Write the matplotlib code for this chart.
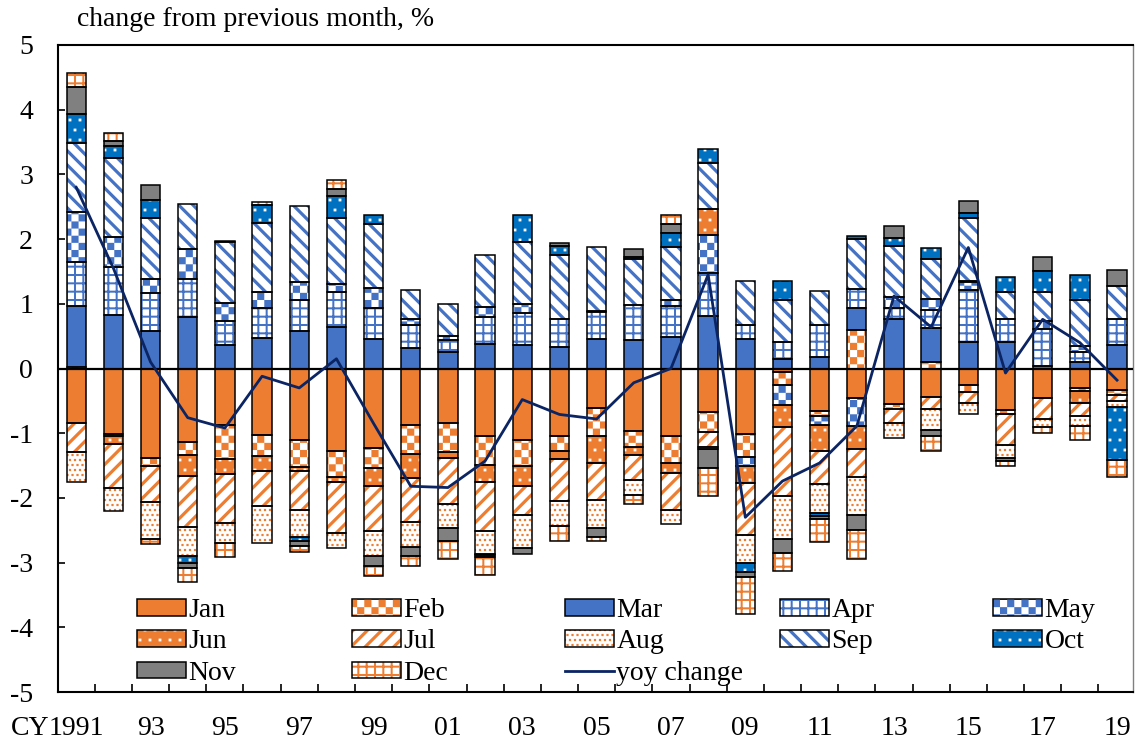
import numpy as np
import matplotlib
matplotlib.use('Agg')
import matplotlib.pyplot as plt
import matplotlib.hatch as mhatch
from matplotlib.path import Path
from matplotlib.patches import Patch
from matplotlib.lines import Line2D
from matplotlib import rcParams

rcParams['font.family'] = ['Liberation Serif', 'DejaVu Serif']
rcParams['font.size'] = 20
rcParams['hatch.linewidth'] = 0.01

# data: monthly change (%) for each calendar year, and yoy change
years = list(range(1991, 2020))
jan = [-0.84, -1.02, -1.39, -1.13, -0.88, -1.03, -1.10, -1.28, -1.23, -0.88, -0.84, -1.04, -1.10, -1.04, -0.61,
       -0.97, -1.04, -0.67, -1.02, -0.05, -0.66, -0.45, -0.55, -0.44, -0.26, -0.64, -0.45, -0.30, -0.33]
feb = [0.03, -0.03, -0.11, -0.21, -0.52, -0.33, -0.42, -0.40, -0.31, -0.44, -0.45, -0.45, -0.40, -0.24, -0.43,
       -0.24, -0.42, -0.31, -0.35, -0.20, -0.08, 0.60, -0.07, 0.10, -0.11, -0.07, 0.00, -0.05, -0.08]
mar = [0.93, 0.82, 0.58, 0.80, 0.37, 0.47, 0.58, 0.64, 0.45, 0.31, 0.25, 0.38, 0.36, 0.33, 0.46,
       0.44, 0.49, 0.81, 0.46, 0.15, 0.18, 0.33, 0.76, 0.52, 0.41, 0.41, 0.04, 0.10, 0.36]
apr = [0.69, 0.75, 0.58, 0.59, 0.36, 0.47, 0.48, 0.54, 0.48, 0.36, 0.19, 0.41, 0.50, 0.44, 0.41,
       0.54, 0.47, 0.67, 0.21, 0.26, 0.49, 0.30, 0.18, 0.28, 0.81, 0.35, 0.57, 0.16, 0.40]
may = [0.77, 0.46, 0.23, 0.46, 0.28, 0.24, 0.28, 0.13, 0.32, 0.10, 0.06, 0.16, 0.13, 0.00, 0.02,
       0.00, 0.10, 0.59, -0.13, -0.32, -0.13, -0.44, 0.16, 0.18, 0.12, 0.00, 0.13, 0.09, 0.00]
jun = [0.00, -0.12, 0.00, -0.32, -0.23, -0.22, -0.07, -0.08, -0.27, -0.37, -0.10, -0.26, -0.31, -0.12, -0.42,
       -0.12, -0.15, 0.39, -0.27, -0.33, -0.40, -0.35, 0.00, 0.00, 0.02, 0.00, 0.00, -0.18, 0.00]
jul = [-0.45, -0.68, -0.56, -0.79, -0.76, -0.55, -0.59, -0.79, -0.70, -0.69, -0.71, -0.76, -0.46, -0.65, -0.57,
       -0.39, -0.58, -0.23, -0.80, -1.07, -0.52, -0.43, -0.22, -0.19, -0.16, -0.48, -0.33, -0.21, -0.10]
aug = [-0.46, -0.35, -0.57, -0.45, -0.31, -0.56, -0.42, -0.22, -0.39, -0.38, -0.36, -0.35, -0.50, -0.39, -0.44,
       -0.23, -0.21, -0.03, -0.43, -0.67, -0.44, -0.60, -0.23, -0.32, -0.17, -0.19, -0.13, -0.15, -0.09]
sep = [1.06, 1.22, 0.94, 0.70, 0.95, 1.07, 1.17, 1.02, 0.99, 0.45, 0.49, 0.80, 0.97, 0.98, 0.99,
       0.72, 0.82, 0.72, 0.69, 0.65, 0.53, 0.77, 0.80, 0.61, 0.97, 0.42, 0.45, 0.71, 0.52]
oct_ = [0.46, 0.19, 0.27, -0.10, 0.01, 0.28, -0.07, 0.33, 0.13, 0.00, 0.00, -0.03, 0.42, 0.15, 0.00,
        0.02, 0.22, 0.22, -0.15, 0.30, -0.05, 0.05, 0.11, 0.18, 0.07, 0.24, 0.31, 0.39, -0.81]
nov = [0.41, 0.08, 0.23, -0.09, 0.00, 0.00, -0.07, 0.11, -0.16, -0.14, -0.20, -0.03, -0.09, 0.04, -0.13,
       0.13, 0.14, -0.30, -0.08, -0.21, -0.04, -0.23, 0.19, -0.10, 0.19, -0.05, 0.23, 0.00, 0.24]
dec = [0.22, 0.12, -0.09, -0.21, -0.21, 0.05, -0.09, 0.14, -0.14, -0.15, -0.28, -0.27, 0.00, -0.23, -0.07,
       -0.14, 0.13, -0.43, -0.56, -0.28, -0.36, -0.45, 0.00, -0.22, 0.00, -0.07, -0.09, -0.22, -0.27]
yoy = [2.80, 1.55, 0.10, -0.76, -0.92, -0.12, -0.30, 0.15, -0.85, -1.82, -1.84, -1.43, -0.48, -0.71, -0.78,
       -0.22, 0.00, 1.45, -2.30, -1.74, -1.46, -0.89, 1.12, 0.64, 1.87, -0.07, 0.76, 0.40, -0.18]

month_names = ['Jan', 'Feb', 'Mar', 'Apr', 'May', 'Jun', 'Jul', 'Aug', 'Sep', 'Oct', 'Nov', 'Dec']
month_values = [jan, feb, mar, apr, may, jun, jul, aug, sep, oct_, nov, dec]
year_labels = ['1991'] + ['%02d' % (y % 100) for y in years[2::2]]

ORANGE = '#ED7D31'
BLUE = '#4472C4'
OCTBLUE = '#0070C0'
GRAY = '#808080'
NAVY = '#0B2463'

# (face, hatch, hatch colour) for each month
styles = [
    (ORANGE, None, ORANGE),
    ('white', 'xx', ORANGE),
    (BLUE, None, BLUE),
    ('white', '++', BLUE),
    ('white', 'xx', BLUE),
    (ORANGE, 'o', 'white'),
    ('white', '/', ORANGE),
    ('white', '.', ORANGE),
    ('white', '\\', BLUE),
    (OCTBLUE, 'o', 'white'),
    (GRAY, None, GRAY),
    ('white', '++', ORANGE),
]


# excel-like fill patterns, built from filled shapes
def _rect(x0, y0, x1, y1):
    return [(x0, y0), (x1, y0), (x1, y1), (x0, y1), (x0, y0)]


class _FilledHatch(mhatch.HatchPatternBase):
    char = ''

    def __init__(self, hatch, density):
        cnt = hatch.count(self.char)
        self.polys = self.make(cnt) if cnt else []
        self.num_vertices = 5 * len(self.polys)

    def set_vertices_and_codes(self, vertices, codes):
        for k, poly in enumerate(self.polys):
            vertices[5 * k:5 * k + 5] = poly
            codes[5 * k:5 * k + 5] = [Path.MOVETO, Path.LINETO, Path.LINETO, Path.LINETO, Path.CLOSEPOLY]


class GridHatch(_FilledHatch):
    char = '+'

    def make(self, cnt):
        n, w = 6 * cnt, 0.01
        polys = []
        for j in range(n + 1):
            t = j / n
            polys.append(_rect(-0.01, t - w, 1.01, t + w))
            polys.append(_rect(t - w, -0.01, t + w, 1.01))
        return polys


class CheckerHatch(_FilledHatch):
    char = 'x'

    def make(self, cnt):
        n = 7 * cnt
        n += n % 2
        s = 1.0 / n
        return [_rect(i * s, j * s, (i + 1) * s, (j + 1) * s)
                for i in range(n) for j in range(n) if (i + j) % 2 == 0]


class StripeNE(_FilledHatch):
    char = '/'

    def make(self, cnt):
        n, t = 7 * cnt, 0.045
        polys = []
        for k in range(-n - 1, n + 1):
            c = k / n
            polys.append([(-0.1, -0.1 + c), (1.1, 1.1 + c), (1.1, 1.1 + c + t), (-0.1, -0.1 + c + t), (-0.1, -0.1 + c)])
        return polys


class StripeSE(_FilledHatch):
    char = '\\'

    def make(self, cnt):
        n, t = 7 * cnt, 0.045
        polys = []
        for k in range(-1, 2 * n + 2):
            c = k / n
            polys.append([(-0.1, 0.1 + c), (1.1, -1.1 + c), (1.1, -1.1 + c + t), (-0.1, 0.1 + c + t), (-0.1, 0.1 + c)])
        return polys


class _Dots(_FilledHatch):
    def make(self, cnt):
        n, h = self.per * cnt, self.half
        polys = []
        for j in range(n + 1):
            off = 0.5 / n if j % 2 else 0.0
            for i in range(-1, n + 1):
                cx, cy = i / n + off, j / n
                polys.append(_rect(cx - h, cy - h, cx + h, cy + h))
        return polys


class BigDots(_Dots):
    char, per, half = 'o', 10, 0.014


class SmallDots(_Dots):
    char, per, half = '.', 20, 0.011


mhatch._hatch_types[:] = [GridHatch, CheckerHatch, StripeNE, StripeSE, BigDots, SmallDots]

# plot
fig = plt.figure(figsize=(11.36, 7.47), dpi=100)
ax = fig.add_axes([58 / 1136, 1 - 692 / 747, 1075 / 1136, 647 / 747])

x = np.arange(len(years))
bw = 0.52
pos_base = np.zeros(len(x))
neg_base = np.zeros(len(x))
for vals, (fc, hatch, hc) in zip(month_values, styles):
    v = np.array(vals)
    bottom = np.where(v >= 0, pos_base, neg_base)
    keep = v != 0
    ax.bar(x[keep], v[keep], bottom=bottom[keep], width=bw, color=fc, hatch=hatch,
           edgecolor=hc, linewidth=0, zorder=2)
    ax.bar(x[keep], v[keep], bottom=bottom[keep], width=bw, fill=False,
           edgecolor='black', linewidth=1.1, zorder=2.5)
    pos_base += np.where(v > 0, v, 0)
    neg_base += np.where(v < 0, v, 0)

ax.axhline(0, color='black', lw=1.6, zorder=3)
ax.plot(x, yoy, color=NAVY, lw=2, zorder=4)

ax.set_xlim(-0.49, 28.43)
ax.set_ylim(-5, 5)
ax.set_yticks(range(-5, 6))
ax.set_yticklabels([str(v) for v in range(-5, 6)])
ax.tick_params(axis='y', direction='in', length=5, width=1.2, pad=18)
ax.set_xticks(x[:-1] + 0.5)
ax.set_xticks(x[::2], year_labels, minor=True)
ax.tick_params(axis='x', which='major', direction='in', length=6, width=1.2, labelbottom=False)
ax.tick_params(axis='x', which='minor', length=0, pad=17)
for side in ['left', 'bottom', 'top']:
    ax.spines[side].set_linewidth(1.5)
ax.spines['right'].set_color(GRAY)
ax.spines['right'].set_linewidth(1.0)

fig.text(77 / 1136, 1 - 20 / 747, 'change from previous month, %', va='center')
fig.text(49 / 1136, 1 - (692 + 17 * 100 / 72) / 747, 'CY', ha='right', va='top')

# legend: 5 equal-width columns, filled row by row
handles = [(Patch(facecolor=fc, hatch=h, edgecolor=hc, linewidth=0),
            Patch(fill=False, edgecolor='black', linewidth=1.1)) for fc, h, hc in styles]
handles.append(Line2D([], [], color=NAVY, lw=2))
labels = month_names + ['yoy change']
col_x = [0.0735, 0.2735, 0.4716, 0.6716, 0.8698]
legs = []
for c in range(5):
    idx = list(range(c, len(labels), 5))
    leg = ax.legend([handles[i] for i in idx], [labels[i] for i in idx], loc='upper left',
                    bbox_to_anchor=(col_x[c], 0.1453), frameon=False, handlelength=1.75,
                    handleheight=0.55, handletextpad=0.1, labelspacing=0.23, borderpad=0,
                    borderaxespad=0)
    legs.append(leg)
for leg in legs[:-1]:
    ax.add_artist(leg)

fig.savefig('out.png', dpi=100)
